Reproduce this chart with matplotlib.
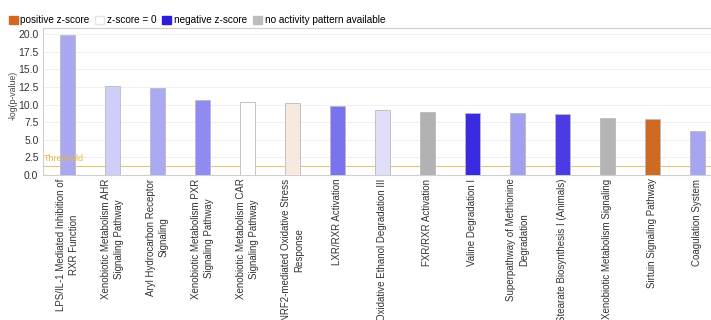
import matplotlib
matplotlib.use("Agg")
import matplotlib.pyplot as plt
from matplotlib.patches import Patch

plt.rcParams["font.family"] = ["Liberation Sans", "DejaVu Sans"]

pathways = [
    "LPS/IL-1 Mediated Inhibition of\nRXR Function",
    "Xenobiotic Metabolism AHR\nSignaling Pathway",
    "Aryl Hydrocarbon Receptor\nSignaling",
    "Xenobiotic Metabolism PXR\nSignaling Pathway",
    "Xenobiotic Metabolism CAR\nSignaling Pathway",
    "NRF2-mediated Oxidative Stress\nResponse",
    "LXR/RXR Activation",
    "Oxidative Ethanol Degradation III",
    "FXR/RXR Activation",
    "Valine Degradation I",
    "Superpathway of Methionine\nDegradation",
    "Stearate Biosynthesis I (Animals)",
    "Xenobiotic Metabolism Signaling",
    "Sirtuin Signaling Pathway",
    "Coagulation System",
]
neg_log_p = [19.85, 12.7, 12.3, 10.6, 10.4, 10.2, 9.8, 9.2, 8.9, 8.8, 8.8, 8.6, 8.1, 7.9, 6.3]
bar_colors = [
    "#a9a7f1", "#cfcef6", "#aba9f1", "#8f8bf0", "#ffffff", "#f6eadf", "#7a72ee", "#e0dff7",
    "#b2b2b2", "#3b2be0", "#a29ff1", "#4a3be5", "#b4b4b4", "#cf6a22", "#a7a4f0",
]
threshold = 1.3

legend_labels = ["positive z-score", "z-score = 0", "negative z-score", "no activity pattern available"]
legend_colors = ["#d2691e", "#ffffff", "#2a1ed8", "#bdbdbd"]

fig = plt.figure(figsize=(7.11, 3.2), dpi=100)
ax = fig.add_axes([0.060, 0.453, 0.940, 0.459])

x = range(len(pathways))
ax.bar(x, neg_log_p, width=0.34, color=bar_colors, edgecolor="#b9b9c6", linewidth=0.6, zorder=3)

ax.axhline(threshold, color="#e3c777", linewidth=0.8, zorder=2)
ax.text(-0.53, threshold + 0.35, "Threshold", color="#e7b93a", fontsize=6.5, va="bottom", ha="left", zorder=4)

ax.set_xlim(-0.55, 14.3)
ax.set_ylim(0, 20.85)
ax.set_yticks([0, 2.5, 5, 7.5, 10, 12.5, 15, 17.5, 20])
ax.set_yticklabels([f"{v:.1f}" for v in ax.get_yticks()], fontsize=7.5, color="#333333")
ax.grid(axis="y", color="#efefef", linewidth=0.7, zorder=0)
ax.set_xticks(list(x))
ax.set_xticklabels(pathways, rotation=90, fontsize=7.0, color="#333333",
                   va="top", ha="center", multialignment="center", linespacing=1.35)
ax.tick_params(axis="both", length=0)
ax.tick_params(axis="x", pad=2.5)
ax.tick_params(axis="y", pad=3)

for side in ["left", "bottom", "top"]:
    ax.spines[side].set_color("#cfcfcf")
    ax.spines[side].set_linewidth(0.8)
ax.spines["right"].set_visible(False)

fig.text(13 / 711, 1 - 95 / 320, "-log(p-value)", rotation=90, fontsize=6.3,
         color="#444444", ha="center", va="center")

handles = [Patch(facecolor=c, edgecolor="#e4e4e4" if c == "#ffffff" else c) for c in legend_colors]
fig.legend(handles, legend_labels, loc="center left", bbox_to_anchor=(0.012, 0.937), ncol=4,
           frameon=False, fontsize=7.2, handlelength=0.9, handleheight=0.9,
           handletextpad=0.25, columnspacing=0.6, borderaxespad=0, borderpad=0)

fig.savefig("out.png", dpi=100)
